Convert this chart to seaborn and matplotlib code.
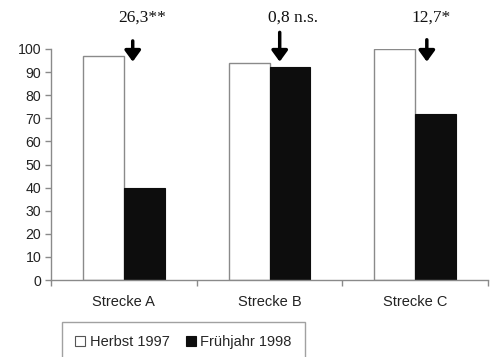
import matplotlib
matplotlib.use("Agg")
import matplotlib.pyplot as plt
import seaborn as sns
import pandas as pd
from matplotlib.patches import Patch

categories = ["Strecke A", "Strecke B", "Strecke C"]
series_names = ["Herbst 1997", "Frühjahr 1998"]
herbst_1997 = [97, 94, 100]
fruehjahr_1998 = [40, 92, 72]
annotations = ["26,3**", "0,8 n.s.", "12,7*"]
yticks = [0, 10, 20, 30, 40, 50, 60, 70, 80, 90, 100]

rows = []
for c, h, f in zip(categories, herbst_1997, fruehjahr_1998):
    rows.append({"Strecke": c, "Zeitraum": series_names[0], "Wert": h})
    rows.append({"Strecke": c, "Zeitraum": series_names[1], "Wert": f})
df = pd.DataFrame(rows)

sns.set_theme(style="white")
plt.rcParams["font.family"] = ["Liberation Sans", "DejaVu Sans"]

fig = plt.figure(figsize=(4.93, 3.57), dpi=100)
ax = fig.add_axes([51 / 493, 1 - 280 / 357, (488 - 51) / 493, (280 - 49) / 357])

palette = {series_names[0]: "white", series_names[1]: "#0d0d0d"}
sns.barplot(data=df, x="Strecke", y="Wert", hue="Zeitraum", order=categories,
            hue_order=series_names, palette=palette, width=0.56, ax=ax,
            legend=False, saturation=1)

for p in ax.patches:
    fc = p.get_facecolor()
    if fc[0] > 0.5:
        p.set_edgecolor("#8a8a8a")
        p.set_linewidth(1.0)
    else:
        p.set_edgecolor("#0d0d0d")
        p.set_linewidth(0.8)

ax.set_xlim(-0.5, 2.5)
ax.set_ylim(0, 100)
ax.set_yticks(yticks)
ax.set_xticks(range(len(categories)))
ax.set_xticks([-0.5, 0.5, 1.5, 2.5], minor=True)
ax.tick_params(axis="x", which="major", length=0, pad=11, labelsize=10.5, colors="#222222")
ax.tick_params(axis="x", which="minor", length=4, width=1, color="#8a8a8a", bottom=True)
ax.tick_params(axis="y", length=4, width=1, color="#8a8a8a", left=True, labelsize=10.2,
               labelcolor="#222222", pad=3)
ax.set_xlabel("")
ax.set_ylabel("")
for s in ["top", "right"]:
    ax.spines[s].set_visible(False)
for s in ["left", "bottom"]:
    ax.spines[s].set_color("#8a8a8a")
    ax.spines[s].set_linewidth(1.0)

arrow_x = [0.061, 1.07, 2.08]
arrow_top = [103.5, 107.2, 104.0]
text_x = [0.125, 1.16, 2.11]
for ax_, top, tx, label in zip(arrow_x, arrow_top, text_x, annotations):
    ax.annotate("", xy=(ax_, 94.5), xytext=(ax_, top),
                arrowprops=dict(arrowstyle="-|>,head_length=0.55,head_width=0.4",
                                lw=2.5, color="black", shrinkA=0, shrinkB=0),
                annotation_clip=False)
    ax.text(tx, 113.4, label, ha="center", va="center", fontsize=12.5,
            family=["Liberation Serif", "DejaVu Serif"], color="#111111", clip_on=False)

handles = [Patch(facecolor="white", edgecolor="#555555", linewidth=0.8),
           Patch(facecolor="#0d0d0d", edgecolor="#0d0d0d", linewidth=0.8)]
leg = fig.legend(handles, series_names, loc="upper left",
                 bbox_to_anchor=(62 / 493, 1 - 322 / 357), ncol=2, frameon=True,
                 fancybox=False, fontsize=10.5, handlelength=0.7, handleheight=0.7,
                 handletextpad=0.3, columnspacing=1.1, borderpad=0.9,
                 borderaxespad=0)
leg.get_frame().set_edgecolor("#8a8a8a")
leg.get_frame().set_linewidth(1.0)

fig.savefig("out.png", dpi=100)
